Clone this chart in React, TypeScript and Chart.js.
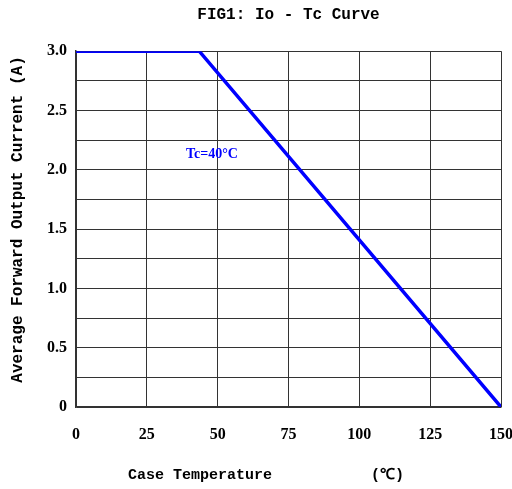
import React, { useEffect, useRef } from "react";
import { Chart, registerables } from "chart.js";

Chart.register(...registerables);

const chartTitle = "FIG1: Io - Tc Curve";
const xAxisTitle = "Case Temperature           (\u2103)     ";
const yAxisTitle = "  Average Forward Output Current (A)";
const tempC = [0, 43.5, 150];
const currentA = [3.0, 3.0, 0];
const xTickLabels = ["0", "25", "50", "75", "100", "125", "150"];
const yTickLabels = ["0", "0.5", "1.0", "1.5", "2.0", "2.5", "3.0"];
const noteText = "Tc=40\u00b0C";
const noteX = 48;
const noteY = 2.13;

const tickFont = { family: "'Liberation Serif', serif", size: 16, weight: "bold" as const };
const titleFont = { family: "'Liberation Mono', monospace", size: 15, weight: "bold" as const };

export default function App() {
  const ref = useRef<HTMLCanvasElement | null>(null);
  useEffect(() => {
    document.body.style.margin = "0";
    const canvas = ref.current!;
    const notePlugin = {
      id: "note",
      afterDatasetsDraw(chart: any) {
        const { ctx, scales } = chart;
        ctx.save();
        ctx.fillStyle = "#0000ff";
        ctx.font = "bold 14px 'Liberation Serif', serif";
        ctx.textAlign = "center";
        ctx.textBaseline = "middle";
        ctx.fillText(noteText, scales.x.getPixelForValue(noteX), scales.y.getPixelForValue(noteY));
        ctx.restore();
      },
    };
    const chart = new Chart(canvas, {
      type: "line",
      data: {
        datasets: [
          {
            data: tempC.map((x, i) => ({ x, y: currentA[i] })),
            borderColor: "#0000ff",
            borderWidth: 3.5,
            pointRadius: 0,
            fill: false,
            tension: 0,
          },
        ],
      },
      options: {
        animation: false,
        responsive: false,
        layout: { padding: { left: 0, right: 11, top: 0, bottom: 0 } },
        plugins: {
          legend: { display: false },
          tooltip: { enabled: false },
          title: {
            display: true,
            text: chartTitle,
            fullSize: false,
            color: "#000",
            font: { family: "'Liberation Mono', monospace", size: 16, weight: "bold" },
            padding: { top: 5, bottom: 27 },
          },
        },
        scales: {
          x: {
            type: "linear",
            min: 0,
            max: 150,
            ticks: {
              stepSize: 25,
              color: "#000",
              font: tickFont,
              padding: 18,
              maxRotation: 0,
              autoSkip: false,
              callback: (v: any) => xTickLabels[Math.round(Number(v) / 25)] ?? "",
            },
            grid: { color: "#333", lineWidth: 1, drawTicks: false },
            border: { color: "#333", width: 1.5 },
            title: {
              display: true,
              text: xAxisTitle,
              color: "#000",
              font: titleFont,
              padding: { top: 0, bottom: 5 },
            },
            afterFit: (s: any) => {
              s.height = 82;
              s.paddingLeft = 0;
              s.paddingRight = 0;
            },
          },
          y: {
            type: "linear",
            min: 0,
            max: 3,
            ticks: {
              stepSize: 0.25,
              color: "#000",
              font: tickFont,
              padding: 9,
              autoSkip: false,
              callback: (v: any) => {
                const k = Number(v) * 2;
                return Math.abs(k - Math.round(k)) < 1e-6 ? yTickLabels[Math.round(k)] : "";
              },
            },
            grid: { color: "#333", lineWidth: 1, drawTicks: false },
            border: { color: "#333", width: 1.5 },
            title: {
              display: true,
              text: yAxisTitle,
              color: "#000",
              font: { family: "'Liberation Mono', monospace", size: 16, weight: "bold" },
              padding: { top: 8, bottom: 0 },
            },
            afterFit: (s: any) => {
              s.width = 76;
              s.paddingTop = 0;
              s.paddingBottom = 0;
            },
          },
        },
      },
      plugins: [notePlugin],
    });
    return () => chart.destroy();
  }, []);
  return (
    <div style={{ width: 512, height: 489 }}>
      <canvas ref={ref} width={512} height={489} />
    </div>
  );
}
